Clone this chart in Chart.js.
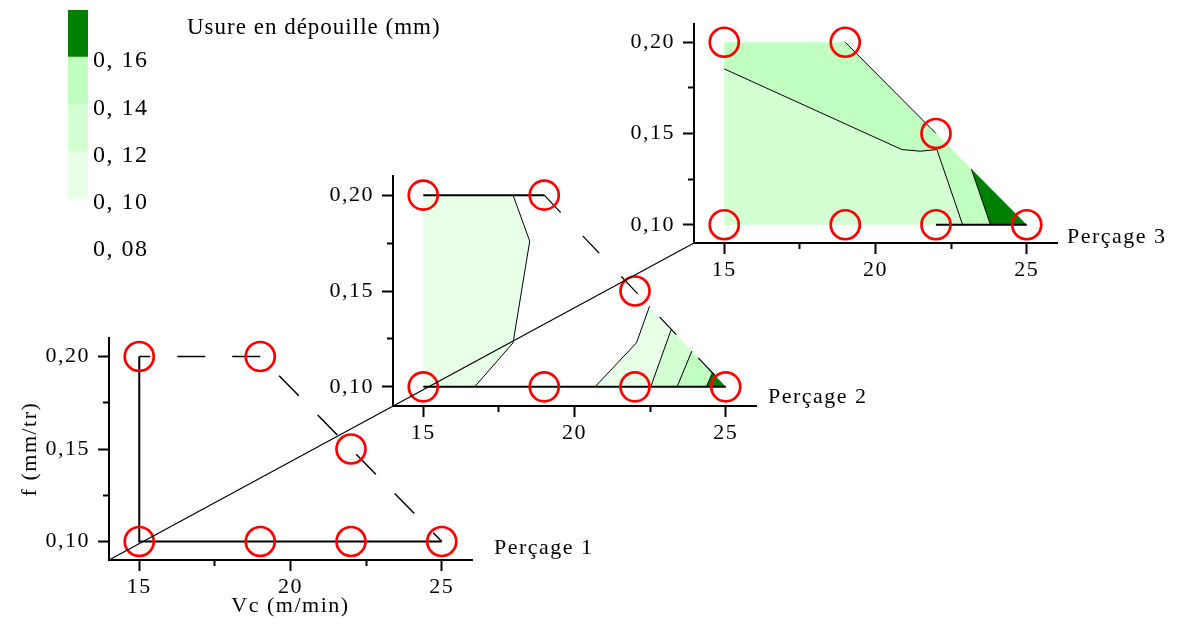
<!DOCTYPE html>
<html><head><meta charset="utf-8">
<script src="https://cdn.jsdelivr.net/npm/chart.js@4.4.1/dist/chart.umd.min.js"></script>
<style>
html,body{margin:0;padding:0;background:#fff;}
#wrap{position:relative;width:1177px;height:625px;overflow:hidden;background:#fff;}
#wrap canvas{position:absolute;left:0;top:0;}
#wrap canvas#cl{top:-40px;}
.lbl{position:absolute;font-family:'Liberation Serif','Times New Roman',serif;color:#000;white-space:nowrap;line-height:1;}
</style></head><body>
<div id="wrap">
<canvas id="c3" width="1177" height="625"></canvas>
<canvas id="c2" width="1177" height="625"></canvas>
<canvas id="c1" width="1177" height="625"></canvas>
<canvas id="cl" width="1177" height="625"></canvas>
<div class="lbl" style="left:187px;top:15px;font-size:23px;line-height:23px;letter-spacing:1px">Usure en dépouille (mm)</div>
<div class="lbl" style="left:494px;top:536px;font-size:22px;line-height:22px;letter-spacing:1.5px">Perçage 1</div>
<div class="lbl" style="left:768px;top:385px;font-size:22px;line-height:22px;letter-spacing:1.5px">Perçage 2</div>
<div class="lbl" style="left:1067px;top:225px;font-size:22px;line-height:22px;letter-spacing:1.5px">Perçage 3</div>
</div>
<script>
// ---- axes ----
const vcMajor = [15, 20, 25];
const vcMinor = [17.5, 22.5];
const fMajor = [0.10, 0.15, 0.20];
const fMinor = [0.125, 0.175];
const vcRange = [14, 26];
const fRange = [0.09, 0.21];

// ---- test points (same grid for every drilling) ----
const essaiVc = [15, 19, 22, 15, 19, 22, 25];
const essaiF  = [0.20, 0.20, 0.15, 0.10, 0.10, 0.10, 0.10];

// ---- colour scale (flank wear, mm) ----
const wearLevels = [0.08, 0.10, 0.12, 0.14, 0.16];
const wearBands = [[0.10, 0.12], [0.12, 0.14], [0.14, 0.16], [0.16, 0.18]];
const wearColors = ['#e8ffe8', '#d3ffd3', '#c0ffc0', '#008000'];

// ---- Perçage 1 ----
const p1Frame = [[15, 0.20], [15, 0.10], [25, 0.10]];
const p1Hull = [[15, 0.20], [19, 0.20], [25, 0.10]];

// ---- Perçage 2 ----
const p2FrameTop = [[15, 0.20], [19, 0.20]];
const p2FrameBottom = [[15, 0.10], [25, 0.10]];
const p2Hull = [[19, 0.20], [25, 0.10]];
const p2Iso010a = [[17.97, 0.20], [18.52, 0.176], [17.97, 0.123], [16.70, 0.10]];
const p2Iso010b = [[20.68, 0.10], [22.05, 0.123], [22.48, 0.142]];
const p2Iso012 = [[22.52, 0.10], [23.20, 0.130]];
const p2Iso014 = [[23.39, 0.10], [23.88, 0.1187]];
const p2Iso016 = [[24.36, 0.10], [24.56, 0.1073]];

// ---- Perçage 3 ----
const p3Edge = [[19, 0.20], [22, 0.15]];
const p3FrameBottom = [[22, 0.10], [25, 0.10]];
const p3Iso014 = [[15, 0.1854], [20.87, 0.1412], [21.48, 0.1403], [22.03, 0.1412], [22.88, 0.10]];
const p3Iso016 = [[23.17, 0.1305], [23.80, 0.10]];

Chart.defaults.font.family = "'Liberation Serif','Times New Roman',serif";
Chart.defaults.color = '#000';

const rev = a => a.slice().reverse();
const toXY = a => a.map(([x, y]) => ({x, y}));
const fmtF = v => v.toFixed(2).replace('.', ',');

function zoneDs(poly, color) {
  return {data: toXY([...poly, poly[0]]), showLine: true, fill: 'shape', backgroundColor: color,
    borderColor: 'rgba(0,0,0,0)', borderWidth: 0, pointRadius: 0, tension: 0, order: 3};
}
function lineDs(a, width, dash, off, order) {
  return {data: toXY(a), showLine: true, fill: false, borderColor: '#000', borderWidth: width,
    borderDash: dash || [], borderDashOffset: off || 0, pointRadius: 0, tension: 0, order: order || 2};
}
function circleDs() {
  return {data: essaiVc.map((x, i) => ({x, y: essaiF[i]})), showLine: false, pointRadius: 14.5,
    pointBorderWidth: 2.7, pointBorderColor: '#ff0000', pointBackgroundColor: 'rgba(0,0,0,0)',
    pointStyle: 'circle', order: 0, clip: false};
}
function spacing(px) { return {id: 'spacing', beforeDraw(c) { c.ctx.letterSpacing = px; }}; }

function panelScales(withTitles) {
  return {
    x: {type: 'linear', position: 'bottom', min: vcRange[0], max: vcRange[1], weight: 1,
      afterBuildTicks: s => { s.ticks = vcMajor.map(v => ({value: v})); },
      afterFit: s => { s.height = withTitles ? 60 : 40; },
      grid: {display: true, drawOnChartArea: false, drawTicks: true, tickLength: 11, tickWidth: 2, tickColor: '#000', color: '#000'},
      border: {display: true, color: '#000', width: 2},
      ticks: {color: '#000', font: {size: 22}, padding: 3, autoSkip: false, maxRotation: 0, minRotation: 0, callback: v => String(v)},
      title: withTitles ? {display: true, text: 'Vc (m/min)', color: '#000', font: {size: 22}, padding: {top: 0, bottom: 1}} : {display: false}
    },
    xm: {type: 'linear', position: 'bottom', min: vcRange[0], max: vcRange[1], weight: 0,
      afterBuildTicks: s => { s.ticks = vcMinor.map(v => ({value: v})); },
      afterFit: s => { s.height = 0; },
      grid: {display: true, drawOnChartArea: false, drawTicks: true, tickLength: 6, tickWidth: 2, tickColor: '#000'},
      border: {display: false}, ticks: {display: false}
    },
    y: {type: 'linear', position: 'left', min: fRange[0], max: fRange[1], weight: 1,
      afterBuildTicks: s => { s.ticks = fMajor.map(v => ({value: v})); },
      afterFit: s => { s.width = 95; },
      grid: {display: true, drawOnChartArea: false, drawTicks: true, tickLength: 11, tickWidth: 2, tickColor: '#000', color: '#000'},
      border: {display: true, color: '#000', width: 2},
      ticks: {color: '#000', font: {size: 22}, padding: 8, autoSkip: false, callback: v => fmtF(v)},
      title: withTitles ? {display: true, text: 'f (mm/tr)', color: '#000', font: {size: 22}, padding: {top: 3, bottom: 0}} : {display: false}
    },
    ym: {type: 'linear', position: 'left', min: fRange[0], max: fRange[1], weight: 0,
      afterBuildTicks: s => { s.ticks = fMinor.map(v => ({value: v})); },
      afterFit: s => { s.width = 0; },
      grid: {display: true, drawOnChartArea: false, drawTicks: true, tickLength: 6, tickWidth: 2, tickColor: '#000'},
      border: {display: false}, ticks: {display: false}
    }
  };
}

function panel(id, datasets, padding, withTitles, extraPlugins) {
  return new Chart(document.getElementById(id), {
    type: 'scatter',
    data: {datasets},
    options: {
      responsive: false, animation: false, events: [], devicePixelRatio: 1,
      layout: {padding},
      plugins: {legend: {display: false}, tooltip: {enabled: false}},
      scales: panelScales(withTitles)
    },
    plugins: [spacing('1.5px'), ...(extraPlugins || [])]
  });
}

// Perçage 3 (back)
const chart3 = panel('c3', [
  zoneDs([[15, 0.10], ...p3Iso014], wearColors[1]),
  zoneDs([[15, 0.20], [19, 0.20], ...p3Iso016, ...rev(p3Iso014)], wearColors[2]),
  zoneDs([...p3Iso016, [25, 0.10]], wearColors[3]),
  lineDs(p3Iso014, 1),
  lineDs(p3Iso016, 1),
  lineDs(p3Edge, 1),
  lineDs(p3FrameBottom, 2, null, 0, 1),
  circleDs()
], {left: 599, right: 120, top: 24, bottom: 342}, false);

// Perçage 2
const chart2 = panel('c2', [
  zoneDs([[15, 0.10], [15, 0.20], ...p2Iso010a], wearColors[0]),
  zoneDs([...p2Iso010b, ...rev(p2Iso012)], wearColors[0]),
  zoneDs([...p2Iso012, ...rev(p2Iso014)], wearColors[1]),
  zoneDs([...p2Iso014, ...rev(p2Iso016)], wearColors[2]),
  zoneDs([...p2Iso016, [25, 0.10]], wearColors[3]),
  lineDs(p2Iso010a, 1),
  lineDs(p2Iso010b, 1),
  lineDs(p2Iso012, 1),
  lineDs(p2Iso014, 1),
  lineDs(p2Iso016, 1),
  lineDs(p2Hull, 1.2, [24, 32], 0),
  lineDs(p2FrameTop, 2, null, 0, 1),
  lineDs(p2FrameBottom, 2, null, 0, 1),
  circleDs()
], {left: 298, right: 421, top: 176, bottom: 179}, false);

// perspective axis joining the three origins
const depthAxis = {
  id: 'depthAxis',
  afterDraw(c) {
    const a = c.chartArea, b = chart3.chartArea;
    const ctx = c.ctx;
    ctx.save();
    ctx.strokeStyle = '#000';
    ctx.lineWidth = 1.2;
    ctx.beginPath();
    ctx.moveTo(a.left, a.bottom);
    ctx.lineTo(b.left, b.bottom);
    ctx.stroke();
    ctx.restore();
  }
};

// Perçage 1 (front)
const chart1 = panel('c1', [
  lineDs(p1Hull, 1.5, [28, 27], 17),
  lineDs(p1Frame, 2, null, 0, 1),
  circleDs()
], {left: 14, right: 705, top: 338, bottom: 5}, true, [depthAxis]);

// colour scale (canvas shifted up by 40px, see CSS)
new Chart(document.getElementById('cl'), {
  type: 'bar',
  data: {labels: [''], datasets: wearBands.map((b, i) => ({
    data: [b], backgroundColor: wearColors[i], borderWidth: 0, barPercentage: 1, categoryPercentage: 1
  }))},
  options: {
    responsive: false, animation: false, events: [], devicePixelRatio: 1,
    layout: {padding: {left: 68, right: 1029, top: 50, bottom: 339}},
    plugins: {legend: {display: false}, tooltip: {enabled: false}},
    scales: {
      x: {display: false, stacked: true},
      y: {position: 'right', min: 0.08, max: 0.18, stacked: false,
        afterBuildTicks: s => { s.ticks = wearLevels.map(v => ({value: v})); },
        afterFit: s => { s.width = 60; },
        grid: {display: false, drawTicks: false}, border: {display: false},
        ticks: {padding: 5, labelOffset: 4, color: '#000', font: {size: 24}, autoSkip: false,
          callback: v => v.toFixed(2).replace('.', ', ')}
      }
    }
  },
  plugins: [spacing('1.5px')]
});
</script>
</body></html>
